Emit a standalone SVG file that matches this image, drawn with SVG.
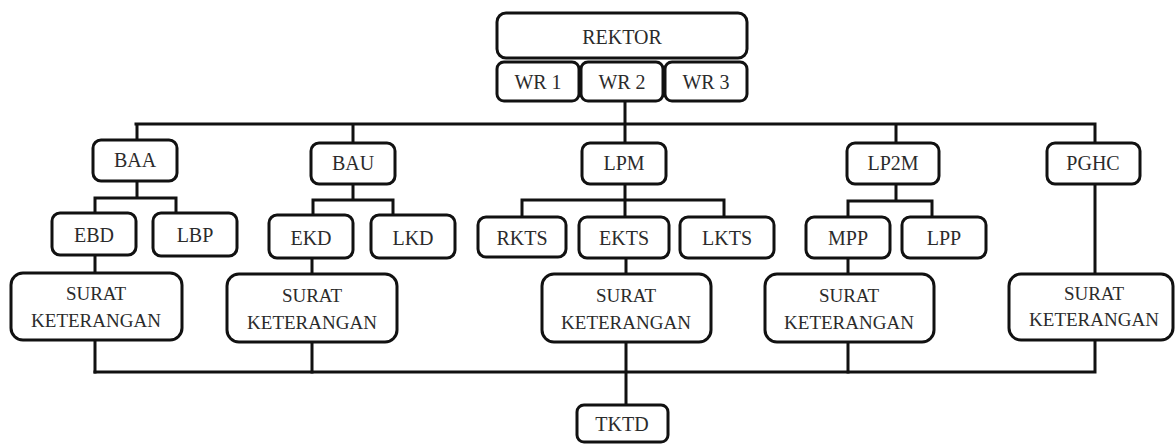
<svg xmlns="http://www.w3.org/2000/svg" width="1176" height="445" viewBox="0 0 1176 445">
<style>
.b{fill:#fff;stroke:#111;stroke-width:3}
text{font-family:'Liberation Serif','Times New Roman',serif;font-size:20px;fill:#2b2b2b;text-anchor:middle}
text.s{font-size:19px}
.c{fill:none;stroke:#111;stroke-width:3;stroke-linecap:square}
</style>
<rect width="1176" height="445" fill="#fff"/>
<g id="connectors">
<path class="c" d="M625 101V124M136 124H1095M137 124V140M353 124V143M625 124V143M896 124V143M1095 124V143"/>
<path class="c" d="M137 181V198M95 198H176M95 198V213M176 198V213M95 255V273M95 340V372"/>
<path class="c" d="M353 184V200M313 200H393M313 200V215M393 200V215M312 258V274M312 342V372"/>
<path class="c" d="M625 184V200M522 200H724M522 200V217M625 200V217M724 200V217M626 258V274M626 342V405"/>
<path class="c" d="M896 184V201M848 201H932M848 201V217M932 201V217M848 258V274M848 342V372"/>
<path class="c" d="M1095 184V274M1095 340V372M95 372H1095"/>
</g>
<g id="rektor"><rect class="b" x="497" y="13" width="250" height="45" rx="9"/><text x="622" y="44">REKTOR</text></g>
<g id="wr1"><rect class="b" x="497" y="62" width="82" height="39" rx="7"/><text x="538" y="89">WR 1</text></g>
<g id="wr2"><rect class="b" x="581" y="62" width="82" height="39" rx="7"/><text x="622" y="89">WR 2</text></g>
<g id="wr3"><rect class="b" x="665" y="62" width="82" height="39" rx="7"/><text x="706" y="89">WR 3</text></g>
<g id="baa"><rect class="b" x="93" y="140" width="84" height="41" rx="8"/><text x="135" y="167">BAA</text></g>
<g id="bau"><rect class="b" x="311" y="143" width="84" height="41" rx="8"/><text x="353" y="170">BAU</text></g>
<g id="lpm"><rect class="b" x="582" y="143" width="84" height="41" rx="8"/><text x="624" y="170">LPM</text></g>
<g id="lp2m"><rect class="b" x="847" y="143" width="92" height="41" rx="8"/><text x="893" y="170">LP2M</text></g>
<g id="pghc"><rect class="b" x="1047" y="143" width="93" height="41" rx="8"/><text x="1093" y="170">PGHC</text></g>
<g id="ebd"><rect class="b" x="52" y="213" width="84" height="42" rx="8"/><text x="94" y="242">EBD</text></g>
<g id="lbp"><rect class="b" x="153" y="213" width="84" height="43" rx="8"/><text x="195" y="242">LBP</text></g>
<g id="ekd"><rect class="b" x="269" y="215" width="84" height="43" rx="8"/><text x="311" y="245">EKD</text></g>
<g id="lkd"><rect class="b" x="371" y="215" width="84" height="43" rx="8"/><text x="413" y="245">LKD</text></g>
<g id="rkts"><rect class="b" x="478" y="217" width="88" height="40" rx="8"/><text x="522" y="245">RKTS</text></g>
<g id="ekts"><rect class="b" x="579" y="217" width="90" height="41" rx="8"/><text x="624" y="245">EKTS</text></g>
<g id="lkts"><rect class="b" x="680" y="217" width="94" height="41" rx="8"/><text x="727" y="245">LKTS</text></g>
<g id="mpp"><rect class="b" x="806" y="217" width="84" height="41" rx="8"/><text x="848" y="245">MPP</text></g>
<g id="lpp"><rect class="b" x="902" y="217" width="84" height="41" rx="8"/><text x="944" y="245">LPP</text></g>
<g id="sk1"><rect class="b" x="11" y="273" width="171" height="67" rx="12"/><text class="s" x="96" y="300">SURAT</text><text class="s" x="96" y="327">KETERANGAN</text></g>
<g id="sk2"><rect class="b" x="227" y="274" width="170" height="68" rx="12"/><text class="s" x="312" y="302">SURAT</text><text class="s" x="312" y="329">KETERANGAN</text></g>
<g id="sk3"><rect class="b" x="542" y="274" width="169" height="68" rx="12"/><text class="s" x="626" y="302">SURAT</text><text class="s" x="626" y="329">KETERANGAN</text></g>
<g id="sk4"><rect class="b" x="765" y="274" width="169" height="68" rx="12"/><text class="s" x="849" y="302">SURAT</text><text class="s" x="849" y="329">KETERANGAN</text></g>
<g id="sk5"><rect class="b" x="1009" y="274" width="164" height="66" rx="12"/><text class="s" x="1094" y="300">SURAT</text><text class="s" x="1094" y="326">KETERANGAN</text></g>
<g id="tktd"><rect class="b" x="577" y="405" width="91" height="37" rx="7"/><text x="622" y="431">TKTD</text></g>
</svg>
